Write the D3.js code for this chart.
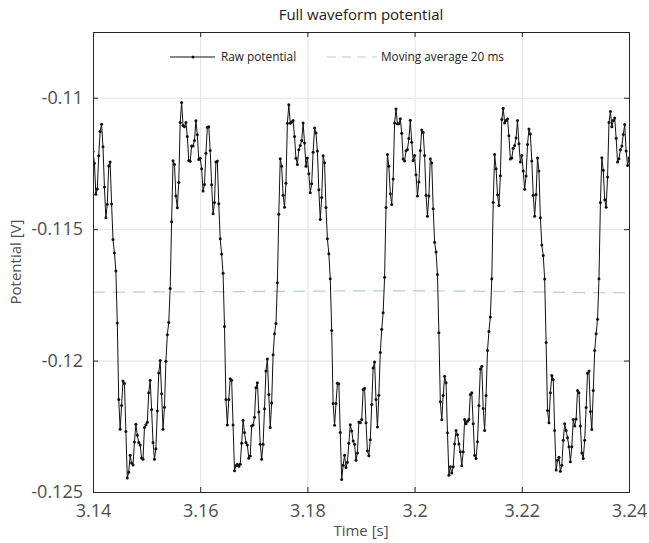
<!DOCTYPE html>
<html>
<head>
<meta charset="utf-8">
<script src="https://cdn.jsdelivr.net/npm/d3@7"></script>
<style>
  body { margin: 0; background: #fff; }
  text { font-family: "Open Sans", "Noto Sans", sans-serif; }
</style>
</head>
<body>
<svg id="chart" width="649" height="543"></svg>
<script>
// axis ticks
const xTicks = [3.14, 3.16, 3.18, 3.2, 3.22, 3.24];
const xTickLabels = ["3.14", "3.16", "3.18", "3.2", "3.22", "3.24"];
const yTicks = [-0.125, -0.12, -0.115, -0.11];
const yTickLabels = ["-0.125", "-0.12", "-0.115", "-0.11"];

// raw samples (3750 samples/s starting at 3.14 s)
const startTime = 3.14;
const sampleRate = 3750;
const rawPotential = [
  -0.11205, -0.11249, -0.11367, -0.11347, -0.11221, -0.11129, -0.11101, -0.11187, -0.11340, -0.11457,
  -0.11405, -0.11260, -0.11245, -0.11404, -0.11539, -0.11591, -0.11659,
  -0.11857, -0.12148, -0.12261, -0.12171, -0.12078, -0.12087, -0.12270, -0.12447, -0.12425, -0.12360,
  -0.12390, -0.12397, -0.12310, -0.12242, -0.12284, -0.12312, -0.12321, -0.12371, -0.12375, -0.12255,
  -0.12244, -0.12235, -0.12122, -0.12075, -0.12186, -0.12312, -0.12375, -0.12335, -0.12192, -0.12047,
  -0.12000, -0.12126, -0.12261, -0.12178, -0.12003, -0.11902, -0.11855, -0.11726,
  -0.11472, -0.11240, -0.11254, -0.11374, -0.11419, -0.11323, -0.11094, -0.11018, -0.11106, -0.11110,
  -0.11094, -0.11148, -0.11239, -0.11242, -0.11184, -0.11184, -0.11163, -0.11088, -0.11141, -0.11235,
  -0.11230, -0.11270, -0.11355, -0.11330, -0.11211, -0.11112, -0.11110, -0.11201, -0.11331, -0.11441,
  -0.11399, -0.11245, -0.11241, -0.11403, -0.11537, -0.11595, -0.11668,
  -0.11870, -0.12148, -0.12245, -0.12148, -0.12069, -0.12075, -0.12245, -0.12419, -0.12400, -0.12394,
  -0.12402, -0.12394, -0.12315, -0.12227, -0.12274, -0.12312, -0.12321, -0.12372, -0.12363, -0.12249,
  -0.12245, -0.12216, -0.12103, -0.12084, -0.12196, -0.12318, -0.12375, -0.12318, -0.12183, -0.12040,
  -0.11994, -0.12129, -0.12255, -0.12161, -0.11978, -0.11898, -0.11859, -0.11704,
  -0.11443, -0.11232, -0.11261, -0.11371, -0.11417, -0.11325, -0.11097, -0.11027, -0.11097, -0.11092,
  -0.11087, -0.11148, -0.11230, -0.11254, -0.11198, -0.11182, -0.11163, -0.11096, -0.11172, -0.11261,
  -0.11229, -0.11289, -0.11362, -0.11327, -0.11207, -0.11115, -0.11134, -0.11203, -0.11350, -0.11463,
  -0.11380, -0.11221, -0.11247, -0.11418, -0.11537, -0.11594, -0.11689,
  -0.11886, -0.12163, -0.12246, -0.12163, -0.12086, -0.12088, -0.12274, -0.12452, -0.12398, -0.12360,
  -0.12407, -0.12387, -0.12315, -0.12244, -0.12268, -0.12306, -0.12318, -0.12379, -0.12352, -0.12234,
  -0.12237, -0.12224, -0.12110, -0.12105, -0.12237, -0.12343, -0.12362, -0.12301, -0.12167, -0.12028,
  -0.12005, -0.12148, -0.12253, -0.12132, -0.11969, -0.11881, -0.11818,
  -0.11683, -0.11418, -0.11216, -0.11261, -0.11365, -0.11406, -0.11309, -0.11096, -0.11043, -0.11099,
  -0.11099, -0.11080, -0.11135, -0.11233, -0.11241, -0.11202, -0.11197, -0.11155, -0.11086, -0.11169,
  -0.11239, -0.11220, -0.11293, -0.11374, -0.11321, -0.11201, -0.11123, -0.11131, -0.11220, -0.11371,
  -0.11451, -0.11374, -0.11232, -0.11248, -0.11422, -0.11550, -0.11587, -0.11673,
  -0.11894, -0.12157, -0.12225, -0.12133, -0.12060, -0.12084, -0.12275, -0.12436, -0.12404, -0.12428,
  -0.12404, -0.12317, -0.12266, -0.12282, -0.12317, -0.12347, -0.12400, -0.12347, -0.12224, -0.12240,
  -0.12231, -0.12224, -0.12129, -0.12122, -0.12240, -0.12360, -0.12373, -0.12309, -0.12171, -0.12032,
  -0.12022, -0.12182, -0.12266, -0.12133, -0.11962, -0.11889, -0.11834,
  -0.11689, -0.11399, -0.11216, -0.11270, -0.11369, -0.11410, -0.11297, -0.11083, -0.11040, -0.11096,
  -0.11087, -0.11081, -0.11145, -0.11233, -0.11229, -0.11192, -0.11182, -0.11153, -0.11087, -0.11175,
  -0.11245, -0.11220, -0.11279, -0.11348, -0.11298, -0.11178, -0.11119, -0.11138, -0.11241, -0.11371,
  -0.11451, -0.11368, -0.11229, -0.11279, -0.11457, -0.11560, -0.11600, -0.11690,
  -0.11931, -0.12190, -0.12237, -0.12122, -0.12057, -0.12072, -0.12266, -0.12416, -0.12379, -0.12368,
  -0.12421, -0.12398, -0.12303, -0.12240, -0.12266, -0.12294, -0.12328, -0.12385, -0.12328, -0.12224,
  -0.12249, -0.12222, -0.12114, -0.12122, -0.12249, -0.12352, -0.12373, -0.12303, -0.12179, -0.12048,
  -0.12040, -0.12194, -0.12262, -0.12114, -0.11962, -0.11898, -0.11843,
  -0.11689, -0.11399, -0.11228, -0.11276, -0.11388, -0.11417, -0.11302, -0.11094, -0.11052, -0.11110,
  -0.11087, -0.11077, -0.11154, -0.11245, -0.11232, -0.11198, -0.11184, -0.11140, -0.11102, -0.11203,
  -0.11258, -0.11229
];

// 20 ms moving average (almost flat)
const avgTimes = [3.14, 3.15, 3.16, 3.17, 3.18, 3.19, 3.20, 3.21, 3.22, 3.23, 3.24];
const avgPotential = [-0.11740, -0.11739, -0.11738, -0.11737, -0.11736, -0.11735, -0.11735, -0.11736, -0.11738, -0.11741, -0.11742];

const width = 649, height = 543;
const margin = { top: 32, right: 20, bottom: 51, left: 93 };

const svg = d3.select("#chart");

const x = d3.scaleLinear()
   .domain([3.14, 3.24])
   .range([margin.left, width - margin.right]);

const y = d3.scaleLinear()
   .domain([-0.125, -0.1075])
   .range([height - margin.bottom, margin.top]);

const plotW = x.range()[1] - x.range()[0];
const plotH = y.range()[0] - y.range()[1];

// grid
svg.append("g")
   .attr("transform", `translate(0,${margin.top})`)
   .call(d3.axisTop(x).tickValues(xTicks).tickSize(-plotH).tickFormat(""))
   .call(g => g.select(".domain").remove())
   .call(g => g.selectAll("line").attr("stroke", "#e2e2e2"));

svg.append("g")
   .attr("transform", `translate(${margin.left},0)`)
   .call(d3.axisLeft(y).tickValues(yTicks).tickSize(-plotW).tickFormat(""))
   .call(g => g.select(".domain").remove())
   .call(g => g.selectAll("line").attr("stroke", "#e2e2e2"));

svg.append("clipPath").attr("id", "clip")
   .append("rect")
   .attr("x", margin.left).attr("y", margin.top)
   .attr("width", plotW)
   .attr("height", plotH);

const plot = svg.append("g").attr("clip-path", "url(#clip)");

// moving average
const avgLine = d3.line()
   .x((d, i) => x(avgTimes[i]))
   .y(d => y(d))
   .curve(d3.curveMonotoneX);

plot.append("path")
   .datum(avgPotential)
   .attr("d", avgLine)
   .attr("fill", "none")
   .attr("stroke", "#b3d1c2")
   .attr("stroke-width", 1.2)
   .attr("stroke-dasharray", "12,8");

// raw potential
const rawLine = d3.line()
   .x((d, i) => x(startTime + i / sampleRate))
   .y(d => y(d));

plot.append("path")
   .datum(rawPotential)
   .attr("d", rawLine)
   .attr("fill", "none")
   .attr("stroke", "#111")
   .attr("stroke-width", 1);

plot.selectAll(".pt")
   .data(rawPotential)
   .join("circle")
   .attr("class", "pt")
   .attr("cx", (d, i) => x(startTime + i / sampleRate))
   .attr("cy", d => y(d))
   .attr("r", 1.5)
   .attr("fill", "#111");

// axes (box, ticks inside)
const axisColor = "#262626";
const labelColor = "#4d4d4d";

const xBottom = svg.append("g")
   .attr("transform", `translate(0,${height - margin.bottom})`)
   .call(d3.axisBottom(x).tickValues(xTicks).tickSize(-5).tickPadding(12)
      .tickFormat((d, i) => xTickLabels[i]));
xBottom.select(".domain").attr("stroke", axisColor);
xBottom.selectAll("line").attr("stroke", axisColor);
xBottom.selectAll("text").attr("fill", labelColor).attr("font-size", 18);

const xTop = svg.append("g")
   .attr("transform", `translate(0,${margin.top})`)
   .call(d3.axisTop(x).tickValues(xTicks).tickSize(-5).tickFormat(""));
xTop.select(".domain").attr("stroke", axisColor);
xTop.selectAll("line").attr("stroke", axisColor);

const yLeft = svg.append("g")
   .attr("transform", `translate(${margin.left},0)`)
   .call(d3.axisLeft(y).tickValues(yTicks).tickSize(-5).tickPadding(10)
      .tickFormat((d, i) => yTickLabels[i]));
yLeft.select(".domain").attr("stroke", axisColor);
yLeft.selectAll("line").attr("stroke", axisColor);
yLeft.selectAll("text").attr("fill", labelColor).attr("font-size", 18);

const yRight = svg.append("g")
   .attr("transform", `translate(${width - margin.right},0)`)
   .call(d3.axisRight(y).tickValues(yTicks).tickSize(-5).tickFormat(""));
yRight.select(".domain").attr("stroke", axisColor);
yRight.selectAll("line").attr("stroke", axisColor);

// titles
const cx = (x.range()[0] + x.range()[1]) / 2;
svg.append("text")
   .attr("x", cx).attr("y", 20)
   .attr("text-anchor", "middle")
   .attr("font-size", 15)
   .attr("fill", "#1a1a1a")
   .text("Full waveform potential");

svg.append("text")
   .attr("x", cx).attr("y", 536)
   .attr("text-anchor", "middle")
   .attr("font-size", 15)
   .attr("fill", labelColor)
   .text("Time [s]");

svg.append("text")
   .attr("transform", `translate(21,${(y.range()[0] + y.range()[1]) / 2}) rotate(-90)`)
   .attr("text-anchor", "middle")
   .attr("font-size", 15)
   .attr("fill", labelColor)
   .text("Potential [V]");

// legend
const legend = svg.append("g").attr("font-size", 11.8).attr("fill", "#222");
legend.append("line")
   .attr("x1", 170).attr("x2", 215).attr("y1", 57).attr("y2", 57)
   .attr("stroke", "#111");
legend.append("circle")
   .attr("cx", 193).attr("cy", 57).attr("r", 1.5).attr("fill", "#111");
legend.append("text")
   .attr("x", 221).attr("y", 61)
   .text("Raw potential");

legend.append("line")
   .attr("x1", 327).attr("x2", 377).attr("y1", 57).attr("y2", 57)
   .attr("stroke", "#b3d1c2").attr("stroke-width", 1.2)
   .attr("stroke-dasharray", "9,6");
legend.append("text")
   .attr("x", 381).attr("y", 61)
   .text("Moving average 20 ms");
</script>
</body>
</html>
